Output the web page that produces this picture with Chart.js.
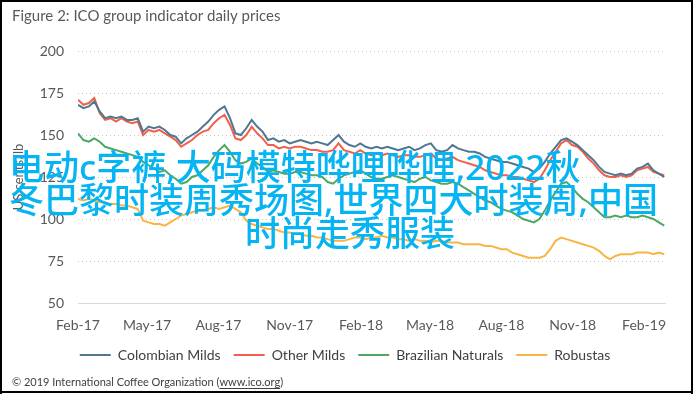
<!DOCTYPE html>
<html>
<head>
<meta charset="utf-8">
<script src="https://cdn.jsdelivr.net/npm/chart.js@4/dist/chart.umd.min.js"></script>
<style>
  html, body { margin: 0; padding: 0; background: #fff; }
  #wrap { width: 695px; height: 394px; }
</style>
</head>
<body>
<div id="wrap"><canvas id="priceChart" width="695" height="394"></canvas></div>
<script>
// weekly readings, starting 1 Feb 2017 (US cents/lb)
const colombianMilds = [168,166,167,170,164,160,161,160,161,159,159,160,152,155,154,155,153,150,149,145,
  148,150,152,155,158,162,165,167,160,151,150,154,159,155,152,147,148,146,147,145,
  146,147,146,145,146,145,144,147,150,146,144,143,145,143,142,143,142,143,142,141,
  142,143,141,142,144,145,141,140,141,144,142,141,140,140,139,137,136,135,134,134,
  133,132,131,130,128,130,134,139,143,147,148,146,144,141,138,135,131,128,127,126,
  127,126,127,130,131,133,129,127,125];
const otherMilds = [171,168,169,172,163,159,160,158,160,158,157,158,150,153,152,153,151,149,147,143,
  145,147,150,152,153,157,160,162,156,148,147,150,155,151,148,144,144,142,143,142,
  143,143,142,141,141,140,140,141,145,141,140,139,141,139,138,139,138,139,138,137,
  138,138,137,137,138,139,136,135,136,137,135,134,133,132,131,129,128,127,126,126,
  125,125,124,123,122,124,129,135,140,145,147,144,143,140,136,133,129,126,125,125,
  126,125,126,129,130,131,128,127,126];
const brazilianNaturals = [151,147,146,148,146,143,142,141,140,139,138,137,134,132,130,128,129,126,124,121,
  122,125,126,129,132,137,141,144,140,135,133,134,136,133,131,128,129,128,127,127,
  128,128,127,126,126,125,122,121,124,126,127,128,129,127,125,124,124,125,126,125,
  124,123,122,124,125,123,122,121,121,122,121,119,117,115,113,111,110,108,106,105,
  104,102,100,99,98,100,105,111,116,121,122,119,115,112,110,107,104,101,101,102,
  101,102,101,101,102,101,100,98,96];
const robustas = [112,111,112,111,110,110,109,109,108,108,107,106,99,98,97,97,96,98,100,102,
  103,104,105,105,106,107,106,107,108,106,104,99,97,96,95,94,94,93,92,92,
  91,91,90,90,89,89,88,87,87,87,88,89,89,88,89,89,90,89,89,88,
  88,87,88,87,87,86,87,87,86,86,86,85,85,85,85,84,84,83,82,82,
  80,79,78,77,77,77,78,82,87,89,88,87,86,85,84,83,81,78,76,78,
  79,79,79,80,80,80,79,80,79];

// days since 1 Feb 2017 for each weekly reading
const weekDays = colombianMilds.map((_, i) => i * 7);

const tickDays = [0, 89, 181, 273, 365, 454, 546, 638, 730];
const tickLabels = ['Feb-17', 'May-17', 'Aug-17', 'Nov-17', 'Feb-18', 'May-18', 'Aug-18', 'Nov-18', 'Feb-19'];
const yTicks = [50, 75, 100, 125, 150, 175, 200];

const seriesNames = ['Colombian Milds', 'Other Milds', 'Brazilian Naturals', 'Robustas'];
const seriesColors = ['#4f7791', '#f0604c', '#4ea764', '#f8b545'];
const seriesValues = [colombianMilds, otherMilds, brazilianNaturals, robustas];

const overlayLines = ['电动c字裤,大码模特哗哩哗哩,2022秋', '冬巴黎时装周秀场图,世界四大时装周,中国', '时尚走秀服装'];

const textGrey = '#595959';

const decorPlugin = {
  id: 'decor',
  afterDraw(chart) {
    const ctx = chart.ctx;
    ctx.save();
    // title
    ctx.fillStyle = textGrey;
    ctx.font = '15px Lato';
    ctx.textBaseline = 'alphabetic';
    ctx.textAlign = 'left';
    ctx.fillText('Figure 2: ICO group indicator daily prices', 12, 21);

    // footer
    ctx.fillStyle = '#404040';
    ctx.font = '11px Lato';
    const pre = '© 2019 International Coffee Organization (';
    const link = 'www.ico.org';
    ctx.fillText(pre, 12, 386);
    const w1 = ctx.measureText(pre).width;
    ctx.fillText(link, 12 + w1, 386);
    const w2 = ctx.measureText(link).width;
    ctx.fillText(')', 12 + w1 + w2, 386);
    ctx.fillRect(12 + w1, 388, w2, 1);

    // overlay caption
    ctx.fillStyle = '#05b4f2';
    ctx.font = '500 35px "Noto Sans", "Noto Sans CJK SC"';
    ctx.textBaseline = 'middle';
    ctx.fillText(overlayLines[0], 9, 170);
    ctx.fillText(overlayLines[1], 9, 203);
    ctx.fillText(overlayLines[2], 245, 236);

    // frame
    ctx.fillStyle = '#000';
    ctx.fillRect(0, 0, 693, 2);
    ctx.fillRect(0, 0, 2, 394);
    ctx.fillRect(691, 0, 2, 394);
    ctx.fillRect(0, 391, 693, 2);
    ctx.restore();
  }
};

new Chart(document.getElementById('priceChart'), {
  type: 'line',
  data: {
    datasets: seriesNames.map((name, s) => ({
      label: name,
      data: seriesValues[s].map((v, i) => ({ x: weekDays[i], y: v })),
      borderColor: seriesColors[s],
      backgroundColor: seriesColors[s],
      borderWidth: 2,
      pointRadius: 0,
      tension: 0,
      fill: false
    }))
  },
  options: {
    responsive: false,
    animation: false,
    events: [],
    layout: { padding: { top: 51, right: 30, bottom: 22, left: 25 } },
    plugins: {
      title: { display: false },
      tooltip: { enabled: false },
      legend: {
        position: 'bottom',
        labels: {
          usePointStyle: true,
          pointStyle: 'line',
          pointStyleWidth: 31,
          color: '#404040',
          font: { family: 'Lato', size: 14 },
          padding: 13
        }
      }
    },
    scales: {
      x: {
        type: 'linear',
        min: 0,
        max: 757,
        afterBuildTicks: (scale) => { scale.ticks = tickDays.map(v => ({ value: v })); },
        afterFit: (scale) => { scale.height = 32; },
        ticks: {
          color: textGrey,
          font: { family: 'Lato', size: 14 },
          padding: 14,
          maxRotation: 0,
          autoSkip: false,
          callback: (v) => tickLabels[tickDays.indexOf(v)]
        },
        grid: { display: false, drawTicks: false },
        border: { display: true, color: '#d9d9d9', width: 1 }
      },
      y: {
        min: 50,
        max: 200,
        afterBuildTicks: (scale) => { scale.ticks = yTicks.map(v => ({ value: v })); },
        afterFit: (scale) => { scale.width = 53; },
        ticks: {
          color: textGrey,
          font: { family: 'Lato', size: 14 },
          padding: 14
        },
        grid: { color: '#c4c4c4', lineWidth: 1, drawTicks: false, borderDash: [1, 3] },
        border: { display: false, dash: [1, 3] },
        title: {
          display: true,
          text: 'US cents/lb',
          color: textGrey,
          font: { family: 'Lato', size: 13 },
          padding: { top: -14, bottom: 0 }
        }
      }
    }
  },
  plugins: [decorPlugin]
});
</script>
</body>
</html>
